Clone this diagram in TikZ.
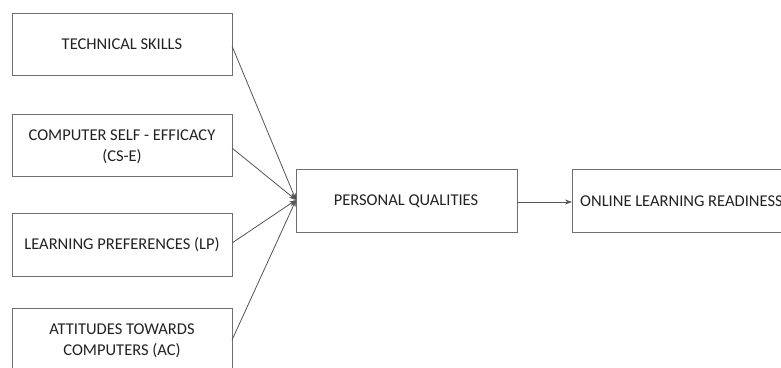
\documentclass[tikz,border=0pt]{standalone}
\usepackage{fontspec}
\setmainfont{Carlito}
\usetikzlibrary{arrows.meta}
\definecolor{boxline}{HTML}{6E6E6E}
\definecolor{arrline}{HTML}{555555}
\definecolor{txt}{HTML}{222222}
\begin{document}
\begin{tikzpicture}[x=1pt,y=-1pt,
  box/.style={draw=boxline,line width=0.9pt,fill=white},
  lbl/.style={text=txt,font=\fontsize{16.5}{21}\selectfont,align=center,inner sep=0pt},
  conn/.style={draw=arrline,line width=0.8pt,-{Stealth[length=7pt,width=5pt]}}]
\useasboundingbox (0,0) rectangle (781,367);
\clip (0,0) rectangle (781,367);
\fill[white] (0,0) rectangle (781,367);
% boxes
\draw[box] (12,13) rectangle (232,75);
\draw[box] (12,114) rectangle (232,176);
\draw[box] (12,213) rectangle (232,276);
\draw[box] (12,308) rectangle (232,380);
\draw[box] (296,169) rectangle (517,232);
\draw[box] (572,169) rectangle (800,232);
\node[lbl] (ts) at (122,44) {TECHNICAL SKILLS};
\node[lbl] (cse) at (122,147) {COMPUTER SELF - EFFICACY\\(CS-E)};
\node[lbl] (lp) at (122,245) {LEARNING PREFERENCES (LP)};
\node[lbl] (ac) at (122,341) {ATTITUDES TOWARDS\\COMPUTERS (AC)};
\node[lbl] (pq) at (406,201) {PERSONAL QUALITIES};
\node[lbl,anchor=west] (olr) at (580,201) {ONLINE LEARNING READINESS};
% connector anchor points
\coordinate (tsR) at (232,46);
\coordinate (cseR) at (232,148);
\coordinate (lpR) at (232,243);
\coordinate (acR) at (232,340);
\coordinate (pqL) at (296,200);
\coordinate (pqR) at (517,202);
\coordinate (olrL) at (572,202);
\draw[conn] (tsR) -- (pqL);
\draw[conn] (cseR) -- (pqL);
\draw[conn] (lpR) -- (pqL);
\draw[conn] (acR) -- (pqL);
\draw[conn] (pqR) -- (olrL);
\end{tikzpicture}
\end{document}
